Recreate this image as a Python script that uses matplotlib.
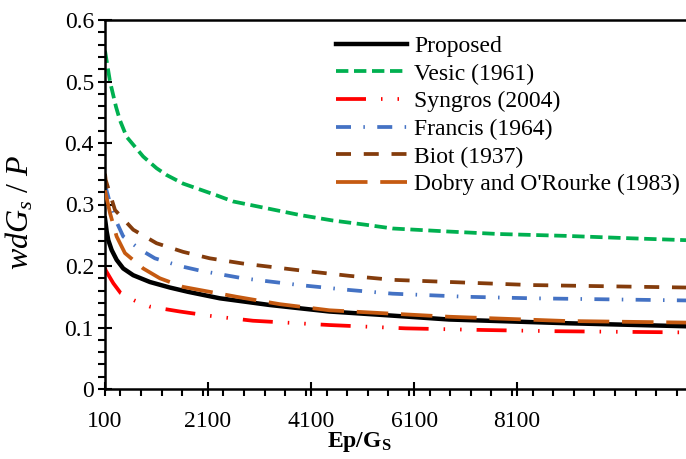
import matplotlib
matplotlib.use("Agg")
import matplotlib.pyplot as plt
from matplotlib.ticker import MultipleLocator

plt.rcParams["font.family"] = "Liberation Serif"
plt.rcParams["mathtext.fontset"] = "custom"
plt.rcParams["mathtext.rm"] = "Liberation Serif"
plt.rcParams["mathtext.it"] = "Liberation Serif:italic"
plt.rcParams["mathtext.bf"] = "Liberation Serif:bold"

# values
prop_x = [100, 113, 133, 164, 229, 326, 454, 648, 971, 1358, 1713, 2327,
          3295, 4456, 5554, 6779, 9039, 11378]
prop_y = [0.277, 0.269, 0.256, 0.242, 0.226, 0.210, 0.196, 0.185, 0.174,
          0.165, 0.158, 0.1475, 0.1366, 0.126, 0.120, 0.113, 0.107, 0.102]

vesic_x = [100, 197, 313, 390, 520, 841, 1101, 1294, 1616, 2263, 2584, 3230,
           3875, 4520, 5166, 5682, 6779, 7748, 9039, 10323, 11378]
vesic_y = [0.550, 0.500, 0.459, 0.437, 0.410, 0.378, 0.359, 0.348, 0.334,
           0.315, 0.305, 0.294, 0.283, 0.274, 0.267, 0.261, 0.256, 0.252,
           0.249, 0.245, 0.242]

syn_x = [100, 113, 261, 404, 681, 971, 1552, 2133, 2971, 4456, 5941, 7418,
         8811, 11378]
syn_y = [0.197, 0.193, 0.172, 0.156, 0.1436, 0.134, 0.126, 0.119, 0.111,
         0.104, 0.0986, 0.096, 0.094, 0.092]

fra_x = [100, 261, 454, 778, 1068, 1552, 1970, 2778, 3875, 4843, 5680, 7103,
         8387, 11378]
fra_y = [0.332, 0.283, 0.248, 0.227, 0.2125, 0.200, 0.192, 0.180, 0.169,
         0.161, 0.155, 0.150, 0.1475, 0.144]

biot_x = [100, 113, 294, 648, 1101, 1616, 2133, 2778, 3875, 4843, 5680, 7103,
          8387, 11378]
biot_y = [0.350, 0.340, 0.291, 0.259, 0.237, 0.223, 0.2125, 0.204, 0.193,
          0.184, 0.1775, 0.173, 0.169, 0.165]

dob_x = [100, 197, 326, 487, 841, 1165, 1616, 2650, 3488, 4456, 5554, 6779,
         9039, 11378]
dob_y = [0.323, 0.286, 0.248, 0.221, 0.196, 0.180, 0.166, 0.150, 0.138,
         0.128, 0.123, 0.1175, 0.1106, 0.108]

xticks = [100, 2100, 4100, 6100, 8100]
yticks = [0, 0.1, 0.2, 0.3, 0.4, 0.5, 0.6]
ytick_labels = ["0", "0.1", "0.2", "0.3", "0.4", "0.5", "0.6"]

fig = plt.figure(figsize=(6.86, 4.59), dpi=100)
ax = fig.add_axes([105 / 686, 1 - 389 / 459, 1 - 105 / 686, 369 / 459])

lw = 2.7
ax.plot(prop_x, prop_y, color="black", lw=3.2, label="Proposed", zorder=5)
ax.plot(vesic_x, vesic_y, color="#00B050", lw=lw, dashes=(3.3, 1.5),
        label="Vesic (1961)")
ax.plot(syn_x, syn_y, color="#FF0000", lw=lw,
        dashes=(8.0, 4.0, 0.4, 4.0, 0.4, 4.0), label="Syngros (2004)")
ax.plot(fra_x, fra_y, color="#4472C4", lw=lw, dashes=(4.0, 3.3, 0.4, 3.3),
        label="Francis (1964)")
ax.plot(biot_x, biot_y, color="#843C0C", lw=lw, dashes=(4.0, 3.4),
        label="Biot (1937)")
ax.plot(dob_x, dob_y, color="#C55A11", lw=lw, dashes=(8.4, 3.4),
        label="Dobry and O'Rourke (1983)", zorder=6)

ax.set_xlim(100, 11378)
ax.set_ylim(0, 0.6)
ax.set_xticks(xticks)
ax.set_xticklabels([str(t) for t in xticks])
ax.set_yticks(yticks)
ax.set_yticklabels(ytick_labels)
ax.xaxis.set_minor_locator(MultipleLocator(400))
ax.yaxis.set_minor_locator(MultipleLocator(0.02))

ax.tick_params(which="major", direction="inout", length=10, width=1.5,
               labelsize=17, colors="black")
ax.tick_params(which="minor", direction="out", length=5, width=1.5)
ax.tick_params(axis="x", which="both", top=False, pad=11)
ax.tick_params(axis="y", which="both", right=False, pad=3)

for side in ["left", "bottom", "top"]:
    ax.spines[side].set_linewidth(1.8)
ax.spines["right"].set_visible(False)

ax.set_xlabel(r"$\mathbf{Ep/G_S}$", fontsize=17)
ax.xaxis.set_label_coords(0.437, -0.112)
ax.set_ylabel(r"$wdG_s$ / $P$", fontsize=23)
ax.yaxis.set_label_coords(-0.12, 0.48)

leg = ax.legend(loc="upper left", bbox_to_anchor=(0.372, 1.0), frameon=False,
                fontsize=17, handlelength=3.0, handletextpad=0.3,
                labelspacing=0.26, borderaxespad=0.25)

plt.savefig("out.png", dpi=100)
